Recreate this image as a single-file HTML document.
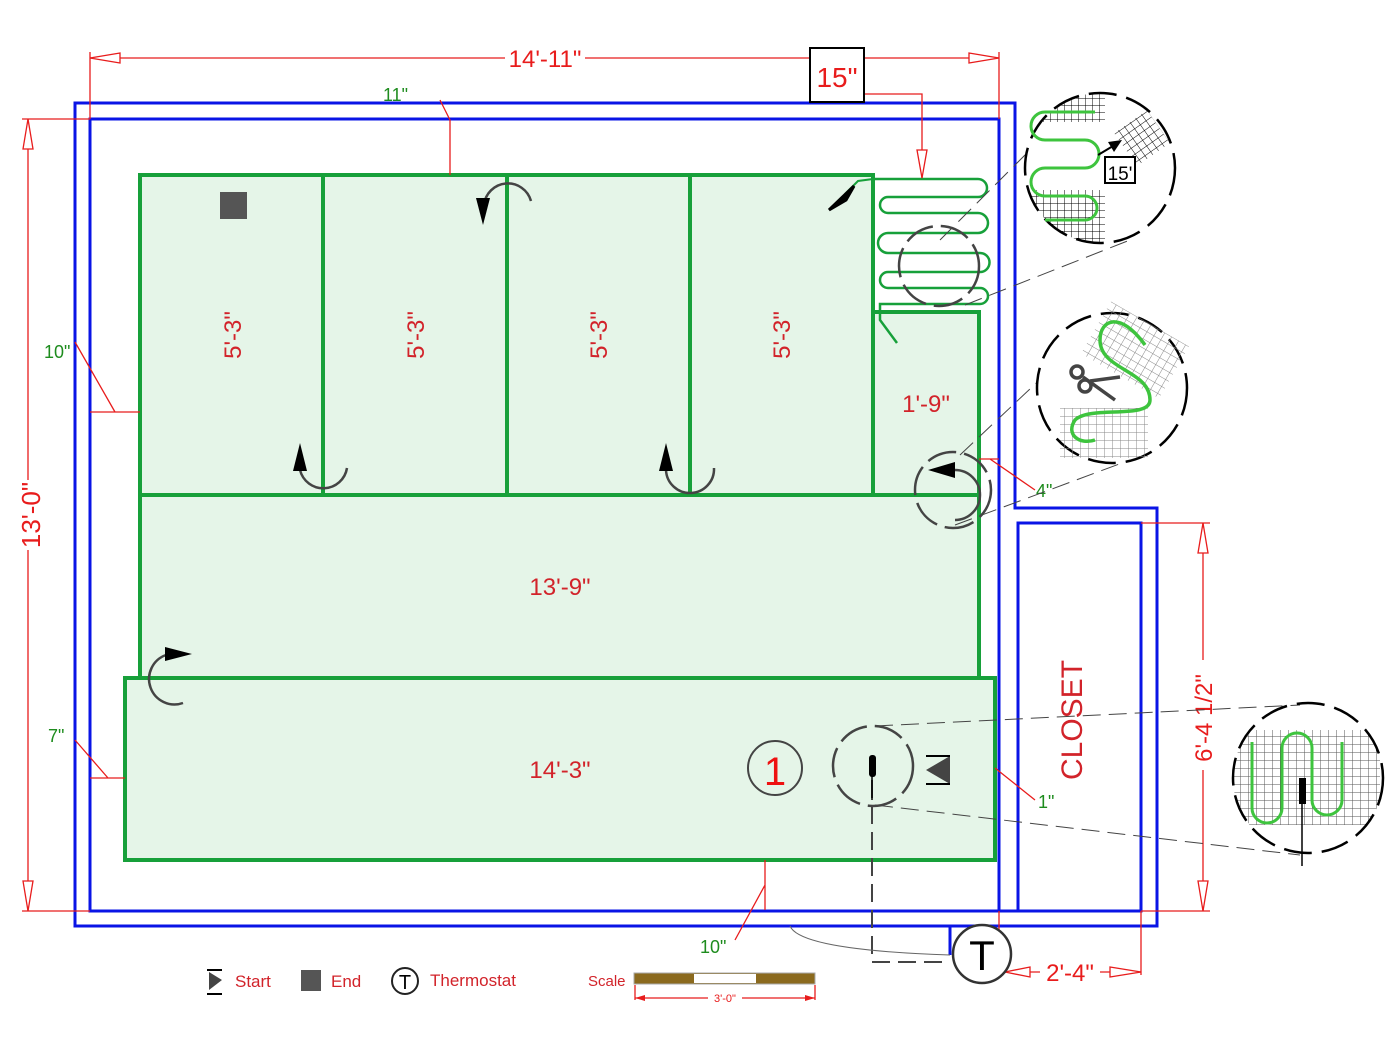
<!DOCTYPE html>
<html><head><meta charset="utf-8"><style>
html,body{margin:0;padding:0;background:#fff;width:1400px;height:1049px;overflow:hidden}
svg{display:block}
text{font-family:"Liberation Sans",sans-serif}
</style></head><body>
<svg width="1400" height="1049" viewBox="0 0 1400 1049" xmlns="http://www.w3.org/2000/svg">
<defs>
<pattern id="g1" width="7" height="7" patternUnits="userSpaceOnUse"><path d="M0 0H7M0 0V7" stroke="#000" stroke-width="1" fill="none"/></pattern>
<pattern id="g2" width="8" height="8" patternUnits="userSpaceOnUse"><path d="M0 0H8M0 0V8" stroke="#555" stroke-width="1" fill="none"/></pattern>
<pattern id="g3" width="8" height="8" patternUnits="userSpaceOnUse"><path d="M0 0H8M0 0V8" stroke="#888" stroke-width="1" fill="none"/></pattern>
<clipPath id="c1"><circle cx="1100" cy="168" r="75"/></clipPath>
<clipPath id="c3"><circle cx="1308" cy="778" r="75"/></clipPath>
</defs>

<g fill="#e5f5e8" stroke="#17a03a" stroke-width="4">
<rect x="140" y="175" width="733" height="320"/>
<rect x="873" y="312" width="106" height="183"/>
<rect x="140" y="495" width="839" height="183"/>
<rect x="125" y="678" width="870" height="182"/>
<path d="M323 175V495M507 175V495M690 175V495" fill="none"/>
</g>

<path d="M873 179H978a9 9 0 0 1 0 18H888a8 8 0 0 0 0 16H978a10 10 0 0 1 0 20H888a10 10 0 0 0 0 20H980a9 9 0 0 1 0 19H888a8 8 0 0 0 0 16H980a8 8 0 0 1 0 16H880V320L897 343" fill="none" stroke="#17a03a" stroke-width="2.5"/>
<path d="M873 179L858 181 845 194" fill="none" stroke="#17a03a" stroke-width="2"/>
<polygon points="829,210 854,186 846,200" fill="#000" stroke="#000" stroke-width="3"/>

<g fill="none" stroke="#0a14e6" stroke-width="3">
<path d="M75 103H1015V508H1157V926H75Z"/>
<path d="M90 119H999V911H90Z"/>
<path d="M999 911H1141V523H1018V911"/>
<path d="M950 926V955"/>
</g>

<g stroke="#e81c1c" stroke-width="1.3" fill="none">
<path d="M90 58H505M585 58H999M90 52V119M999 52V119"/>
<path d="M90 58L120 53V63Z M999 58L969 53V63Z" fill="#fff"/>
<path d="M28 119V480M28 550V911M22 119H90M22 911H90"/>
<path d="M28 119L23 149H33Z M28 911L23 881H33Z" fill="#fff"/>
<path d="M864 94H922V178"/><path d="M922 178L917 150H927Z" fill="#fff"/>
<path d="M1141 523H1210M1203 523V660M1203 770V911M1141 911H1210"/>
<path d="M1203 523L1198 553H1208Z M1203 911L1198 881H1208Z" fill="#fff"/>
<path d="M1141 911V975M999 911V975M999 972H1040M1100 972H1141"/>
<path d="M1005 972L1030 967V977Z M1141 972L1110 967V977Z" fill="#fff"/>
<path d="M440 100L450 120V175M90 412H140M115 412L75 342M90 778H125M108 778L75 740M765 860V910M765 885L735 940M979 459H999M990 459L1035 490M995 768L1035 800"/>
<path d="M635 998H815M635 985V1000M815 985V1000"/>
</g>
<path d="M635 998L645 995V1001Z M815 998L805 995V1001Z" fill="#e81c1c"/>
<text x="545" y="67" fill="#e81c1c" font-size="24" text-anchor="middle">14'-11"</text>
<g transform="translate(40,515) rotate(-90)"><text x="0" y="0" fill="#e81c1c" font-size="26" text-anchor="middle">13'-0"</text></g>
<rect x="810" y="48" width="54" height="54" fill="#fff" stroke="#000" stroke-width="2"/>
<text x="837" y="87" fill="#e81c1c" font-size="28" text-anchor="middle">15"</text>
<g transform="translate(1212,718) rotate(-90)"><text x="0" y="0" fill="#e81c1c" font-size="24" text-anchor="middle">6'-4 1/2"</text></g>
<text x="1070" y="981" fill="#e81c1c" font-size="24" text-anchor="middle">2'-4"</text>

<g fill="#1e8c1e" font-size="18">
<text x="383" y="101">11"</text><text x="44" y="358">10"</text><text x="48" y="742">7"</text>
<text x="700" y="953">10"</text><text x="1036" y="497">4"</text><text x="1038" y="808">1"</text>
</g>

<g fill="#d2232a" font-size="24" text-anchor="middle">
<text transform="translate(241,335) rotate(-90)">5'-3"</text>
<text transform="translate(424,335) rotate(-90)">5'-3"</text>
<text transform="translate(607,335) rotate(-90)">5'-3"</text>
<text transform="translate(790,335) rotate(-90)">5'-3"</text>
<text x="926" y="412">1'-9"</text>
<text x="560" y="595">13'-9"</text>
<text x="560" y="778">14'-3"</text>
</g>
<g transform="translate(1082,720) rotate(-90)"><text x="0" y="0" fill="#d2232a" font-size="30" text-anchor="middle">CLOSET</text></g>

<rect x="220" y="192" width="27" height="27" fill="#555"/>

<g fill="none" stroke="#444" stroke-width="2.5">
<path d="M300 470A24 24 0 0 0 347 468"/>
<path d="M666 470A24 24 0 0 0 714 468"/>
<path d="M484 205A24 24 0 0 1 531 201"/>
<path d="M183 703A22 22 0 0 1 166 655"/>
</g>
<g fill="#000">
<polygon points="300,443 293,471 307,471"/>
<polygon points="666,443 659,471 673,471"/>
<polygon points="483,225 476,198 490,198"/>
<polygon points="192,654 165,647 165,661"/>
<polygon points="928,470 955,462 955,478"/>
</g>
<g fill="none" stroke="#444" stroke-width="2.5" stroke-dasharray="30 8">
<circle cx="953" cy="490" r="38"/>
<circle cx="939" cy="266" r="40"/>
<circle cx="873" cy="766" r="40"/>
</g>
<path d="M955 470A25 25 0 0 1 955 520" fill="none" stroke="#444" stroke-width="2.5"/>

<g fill="none" stroke="#444" stroke-width="1" stroke-dasharray="18 8">
<path d="M940 240L1030 150M965 305L1130 240M955 525L1130 460M960 455L1050 370M875 726L1300 705M875 805L1300 855"/>
<path d="M872 780V962H950" stroke-width="2"/>
</g>
<path d="M790 926Q800 950 950 955" fill="none" stroke="#666" stroke-width="1"/>
<line x1="872" y1="760" x2="872" y2="800" stroke="#000" stroke-width="1.5"/>
<rect x="869" y="755" width="7" height="22" rx="3" fill="#000"/>
<polygon points="950,756 926,770 950,784" fill="#444"/>
<path d="M926 756H950M926 784H950" stroke="#000" stroke-width="2"/>
<circle cx="775" cy="768" r="27" fill="none" stroke="#444" stroke-width="2"/>
<text x="775" y="785" fill="#ee1111" font-size="40" text-anchor="middle">1</text>

<circle cx="982" cy="954" r="29" fill="#fff" stroke="#333" stroke-width="2.5"/>
<text x="982" y="970" fill="#000" font-size="42" text-anchor="middle">T</text>

<g clip-path="url(#c1)">
<rect x="1030" y="92" width="75" height="30" fill="url(#g1)"/>
<rect x="1030" y="190" width="75" height="55" fill="url(#g1)"/>
<rect x="1122" y="118" width="40" height="40" fill="url(#g1)" transform="rotate(-35 1142 138)"/>
</g>
<circle cx="1100" cy="168" r="75" fill="none" stroke="#000" stroke-width="2.5" stroke-dasharray="28 10"/>
<path d="M1095 112H1045a14 14 0 0 0 0 28H1085a14 14 0 0 1 0 28H1045a14 14 0 0 0 0 28H1085a12 12 0 0 1 0 24H1045" fill="none" stroke="#3ec43e" stroke-width="3"/>
<path d="M1098 155L1118 143" stroke="#000" stroke-width="2"/><polygon points="1122,140 1108,142 1114,152"/>
<rect x="1105" y="157" width="30" height="26" fill="#fff" stroke="#000" stroke-width="2"/>
<text x="1120" y="180" font-size="19" text-anchor="middle">15'</text>

<circle cx="1112" cy="388" r="75" fill="#fff" stroke="#000" stroke-width="2.5" stroke-dasharray="28 10"/>
<rect x="1090" y="320" width="90" height="60" fill="url(#g3)" transform="rotate(30 1135 350)"/>
<rect x="1060" y="408" width="88" height="50" fill="url(#g3)"/>
<path d="M1145 345C1120 310 1100 320 1100 340C1100 370 1150 370 1150 400C1150 420 1090 405 1075 420C1065 435 1080 445 1095 440" fill="none" stroke="#3ec43e" stroke-width="3.5"/>
<g stroke="#444" stroke-width="3.5" fill="none"><circle cx="1077" cy="372" r="6"/><circle cx="1085" cy="386" r="6"/><path d="M1083 377L1115 400M1090 381L1120 377"/></g>

<g clip-path="url(#c3)"><rect x="1230" y="730" width="150" height="95" fill="url(#g2)"/></g>
<circle cx="1308" cy="778" r="75" fill="none" stroke="#000" stroke-width="2.5" stroke-dasharray="28 10"/>
<path d="M1252 742V808a15 15 0 0 0 30 0V748a15 15 0 0 1 30 0V800a15 15 0 0 0 30 0V742" fill="none" stroke="#3ec43e" stroke-width="3"/>
<rect x="1299" y="778" width="7" height="26" fill="#000"/><line x1="1302" y1="790" x2="1302" y2="866" stroke="#000" stroke-width="1.5"/>

<polygon points="209,972 222,980 209,990" fill="#444"/><path d="M207 970H222M207 994H222" stroke="#000" stroke-width="2"/>
<text x="235" y="987" fill="#d2232a" font-size="17">Start</text>
<rect x="301" y="970" width="20" height="21" fill="#555"/>
<text x="331" y="987" fill="#d2232a" font-size="17">End</text>
<circle cx="405" cy="981" r="13" fill="none" stroke="#222" stroke-width="2"/>
<text x="405" y="989" font-size="20" text-anchor="middle">T</text>
<text x="430" y="986" fill="#d2232a" font-size="17">Thermostat</text>
<text x="588" y="986" fill="#d2232a" font-size="15">Scale</text>
<rect x="634" y="973" width="181" height="11" fill="#8b6a1e" stroke="#aaa" stroke-width="1"/>
<rect x="694" y="974" width="62" height="9" fill="#fff"/>
<rect x="708" y="993" width="34" height="10" fill="#fff"/>
<text x="725" y="1002" fill="#e81c1c" font-size="11" text-anchor="middle">3'-0"</text>
</svg>
</body></html>
